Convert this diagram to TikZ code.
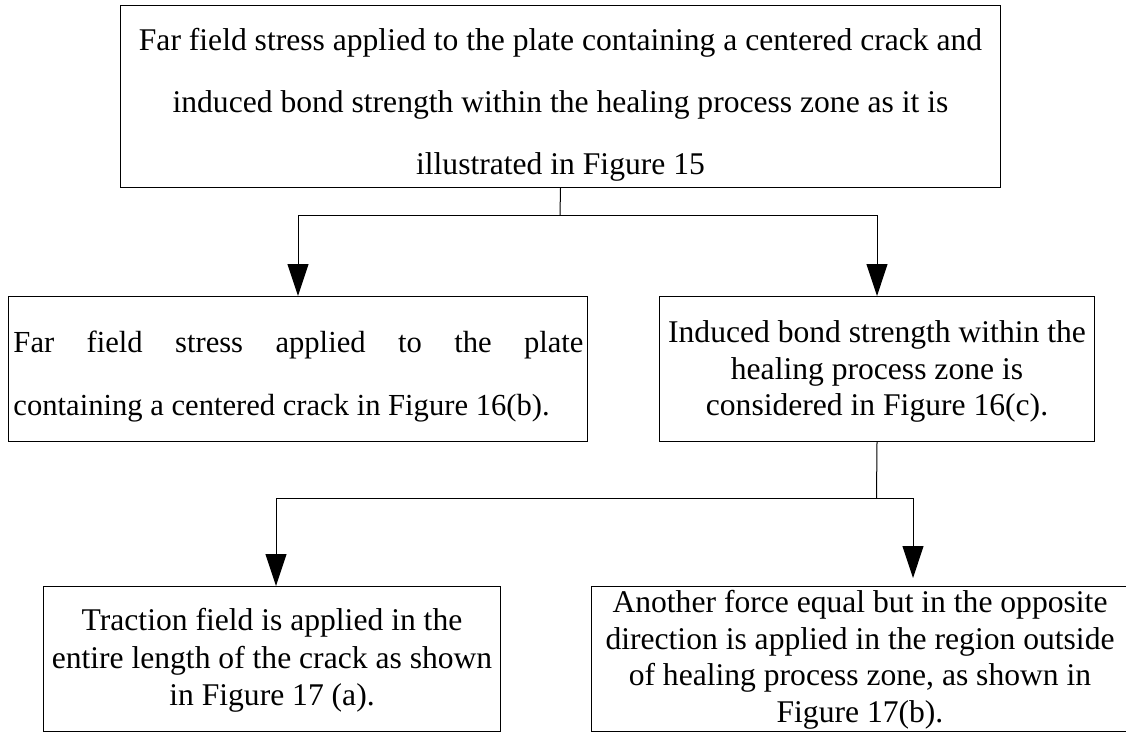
\documentclass[tikz,border=0pt]{standalone}
\usepackage{fontspec}
\setmainfont{Liberation Serif}
\usetikzlibrary{arrows.meta}
\hbadness=10000
\hfuzz=50pt
\begin{document}
\begin{tikzpicture}[x=1pt,y=-1pt,
  boxsty/.style={draw, line width=1pt, inner sep=0pt, anchor=north west, font=\fontsize{31.6}{38}\selectfont},
  arr/.style={line width=1pt, -{Triangle[length=32pt,width=21pt]}},
  lin/.style={line width=1pt}]
\useasboundingbox (0,0) rectangle (1126,734);
\node[boxsty] (top) at (120,5) {\begin{minipage}[t][182pt][t]{880pt}\centering\baselineskip=62pt
\rule{0pt}{45pt}Far field stress applied to the plate containing a centered crack and\\
induced bond strength within the healing process zone as it is\\
illustrated in Figure 15\end{minipage}};
\node[boxsty, font=\fontsize{30.6}{38}\selectfont] (b2) at (8,296) {\begin{minipage}[t][145pt][t]{579pt}\leftskip=5pt\rightskip=4pt\baselineskip=63pt
\rule{0pt}{56pt}Far\hfill field\hfill stress\hfill applied\hfill to\hfill the\hfill plate\\
\mbox{containing a centered crack in Figure 16(b).}\end{minipage}};
\node[boxsty] (b3) at (659,296) {\begin{minipage}[t][145pt][t]{435pt}\centering\baselineskip=36.5pt
\rule{0pt}{46pt}Induced bond strength within the\\
healing process zone is\\
considered in Figure 16(c).\end{minipage}};
\node[boxsty] (b4) at (43,586) {\begin{minipage}[t][145pt][t]{457pt}\centering\baselineskip=37.5pt
\rule{0pt}{44pt}Traction field is applied in the\\
entire length of the crack as shown\\
in Figure 17 (a).\end{minipage}};
\node[boxsty] (b5) at (591,586) {\begin{minipage}[t][145pt][t]{537pt}\centering\baselineskip=36.7pt
\rule{0pt}{26pt}Another force equal but in the opposite\\
direction is applied in the region outside\\
of healing process zone, as shown in\\
Figure 17(b).\end{minipage}};
\coordinate (j1) at (560,215);
\draw[lin] (top.south) -- (j1);
\draw[arr] (j1) -| (b2.north);
\draw[arr] (j1) -| (b3.north);
\coordinate (j2) at (876.5,498);
\draw[lin] (b3.south) -- (j2);
\coordinate (t4) at (276,586);
\coordinate (t5) at (913,586);
\draw[arr] (j2) -| (t4);
\draw[arr, shorten >=8pt] (j2) -| (t5);
\end{tikzpicture}
\end{document}
